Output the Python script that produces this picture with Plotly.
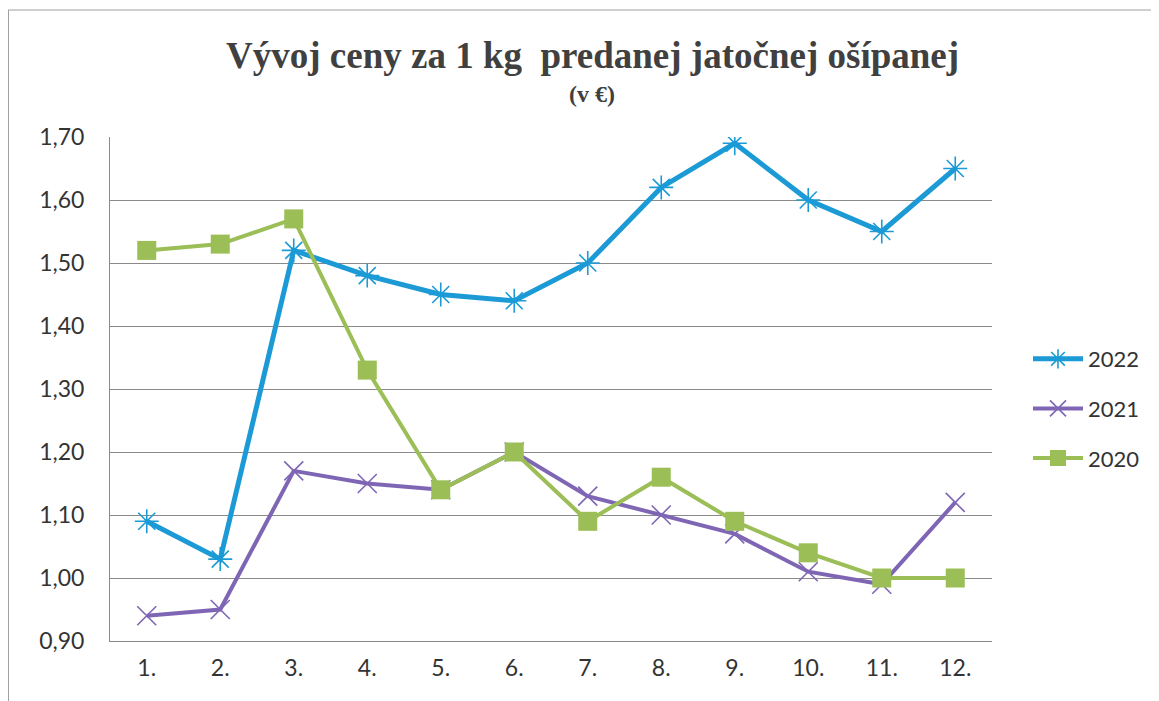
import plotly.graph_objects as go

months = [1, 2, 3, 4, 5, 6, 7, 8, 9, 10, 11, 12]
month_labels = ["1.", "2.", "3.", "4.", "5.", "6.", "7.", "8.", "9.", "10.", "11.", "12."]
y2022 = [1.09, 1.03, 1.52, 1.48, 1.45, 1.44, 1.50, 1.62, 1.69, 1.60, 1.55, 1.65]
y2021 = [0.94, 0.95, 1.17, 1.15, 1.14, 1.20, 1.13, 1.10, 1.07, 1.01, 0.99, 1.12]
y2020 = [1.52, 1.53, 1.57, 1.33, 1.14, 1.20, 1.09, 1.16, 1.09, 1.04, 1.00, 1.00]
y_ticks = [0.90, 1.00, 1.10, 1.20, 1.30, 1.40, 1.50, 1.60, 1.70]

c2022 = "#1B9AD6"
c2021 = "#7F66B5"
c2020 = "#9BBE56"

fig = go.Figure()
fig.add_trace(go.Scatter(x=months, y=y2022, name="2022", mode="lines+markers",
                         legendgroup="a",
                         line=dict(color=c2022, width=5),
                         marker=dict(symbol="asterisk-open", size=20, color=c2022,
                                     line=dict(color=c2022, width=1.6))))
fig.add_trace(go.Scatter(x=months, y=y2021, name="2021", mode="lines+markers",
                         legendgroup="b",
                         line=dict(color=c2021, width=4),
                         marker=dict(symbol="x-thin-open", size=19, color=c2021,
                                     line=dict(color=c2021, width=1.6))))
fig.add_trace(go.Scatter(x=months, y=y2020, name="2020", mode="lines+markers",
                         legendgroup="c",
                         line=dict(color=c2020, width=4),
                         marker=dict(symbol="square", size=19, color=c2020)))

# page body has an 8px margin: work in screenshot pixels, convert to figure pixels
OFF = 8
FW, FH = 1159 - OFF, 701 - OFF
PL, PR, PT, PB = 110, 992, 137, 641  # plot area in screenshot pixels
L = PL - OFF
T = PT - OFF
R = FW - (PR - OFF)
B = FH - (PB - OFF)
W = PR - PL
H = PB - PT

def px(x):
    return (x - PL) / W

def py(y):
    return (PB - y) / H

grid = "#8A8A8A"
fig.update_layout(
    width=FW, height=FH,
    margin=dict(l=L, r=R, t=T, b=B),
    paper_bgcolor="white", plot_bgcolor="white",
    separators=", ",
    font=dict(family="Lato, Noto Sans, sans-serif", size=23, color="#333333"),
    showlegend=True,
    legend=dict(x=px(1028), y=py(338), xanchor="left", yanchor="top",
                font=dict(size=22, color="#333333"), tracegroupgap=18,
                itemwidth=50, borderwidth=0, bgcolor="rgba(0,0,0,0)"),
    xaxis=dict(range=[0.5, 12.5], tickvals=months, ticktext=month_labels,
               showgrid=False, showline=True, linecolor=grid, linewidth=1,
               ticks="", ticklabelstandoff=6, zeroline=False, fixedrange=True),
    yaxis=dict(range=[0.9, 1.7], tickvals=y_ticks, tickformat=".2f",
               showgrid=True, gridcolor=grid, gridwidth=1,
               showline=True, linecolor=grid, linewidth=1,
               ticks="", ticklabelstandoff=20, zeroline=False, fixedrange=True),
    annotations=[
        dict(text="<b>Vývoj ceny za 1 kg  predanej jatočnej ošípanej</b>",
             x=px(592), y=py(56), xref="paper", yref="paper", showarrow=False,
             xanchor="center", yanchor="middle",
             font=dict(family="Liberation Serif, Times New Roman, serif", size=37, color="#404040")),
        dict(text="<b>(v €)</b>",
             x=px(592), y=py(94), xref="paper", yref="paper", showarrow=False,
             xanchor="center", yanchor="middle",
             font=dict(family="Liberation Serif, Times New Roman, serif", size=24, color="#404040")),
    ],
    shapes=[
        dict(type="line", xref="paper", yref="paper", x0=px(8), x1=px(1165), y0=py(10), y1=py(10),
             line=dict(color="#A0A0A0", width=1)),
        dict(type="line", xref="paper", yref="paper", x0=px(8.5), x1=px(8.5), y0=py(10), y1=py(710),
             line=dict(color="#A0A0A0", width=1)),
    ],
)

fig.write_html("out.html")
